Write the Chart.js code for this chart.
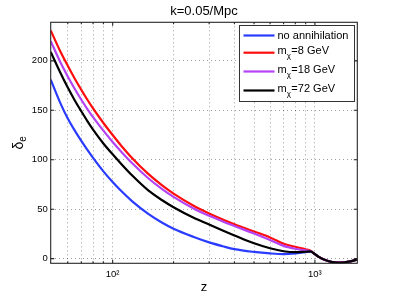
<!DOCTYPE html>
<html><head><meta charset="utf-8">
<script src="https://cdn.jsdelivr.net/npm/chart.js@4/dist/chart.umd.min.js"></script>
<style>html,body{margin:0;padding:0;background:#fff}#c{display:block}</style>
</head><body>
<canvas id="c" width="395" height="296"></canvas>
<script>
// ---- data ----
const zValues        = [49.4, 55, 60, 65, 70, 75, 80, 90, 100, 110, 125, 150, 175, 200, 250, 300, 350, 400, 500, 600, 700, 800, 900, 950, 1000, 1050, 1100, 1200, 1300, 1400, 1500, 1620];
const noAnnihilation = [181, 157.8, 141.7, 129.4, 119, 109.9, 101.9, 88.3, 77.5, 68.6, 58, 45.3, 36.6, 30.3, 22.2, 16.5, 12.6, 9.6, 6.8, 5.3, 4.6, 5.3, 6.6, 7, 4.5, 1.5, -0.6, -3.2, -4, -3.8, -2.8, -0.8];
const mChi8          = [230.8, 210, 195, 181.9, 170.7, 160.7, 151.9, 137.2, 125, 114.5, 101.6, 85.7, 74.3, 65.8, 53.8, 45.7, 39.6, 34.8, 27.5, 21.5, 15, 12, 9.5, 8, 4.5, 1.5, -0.6, -3.2, -4, -3.8, -2.8, -0.8];
const mChi18         = [220, 199.1, 184.2, 171.5, 160.7, 151.3, 143.1, 129.4, 118, 108.4, 96.4, 81.3, 70.6, 62.5, 51, 43.3, 37.6, 33, 25.4, 18.8, 12.9, 10, 8.3, 7.7, 4.5, 1.5, -0.6, -3.2, -4, -3.8, -2.8, -0.8];
const mChi72         = [209, 188.5, 173, 160, 149, 139.1, 130.5, 116.5, 105.5, 96, 84, 69, 59.3, 52, 41.6, 34.5, 28.5, 23.5, 15.5, 10.5, 7.5, 6.5, 7, 7.3, 4.5, 1.5, -0.6, -3.2, -4, -3.8, -2.8, -0.8];
const yTicks = [0, 50, 100, 150, 200];
const xGridTicks = [60, 70, 80, 90, 100, 200, 300, 400, 500, 600, 700, 800, 900, 1000];
const xMajorLabels = {100: '10\u00B2', 1000: '10\u00B3'};
const titleText = 'k=0.05/Mpc';
const legendEntries = [
  {main: 'no annihilation', sub: '', rest: ''},
  {main: 'm', sub: '\u03C7', rest: '=8 GeV'},
  {main: 'm', sub: '\u03C7', rest: '=18 GeV'},
  {main: 'm', sub: '\u03C7', rest: '=72 GeV'}
];
const colors = ['#2a3cff', '#ff0d0d', '#b443f5', '#000000'];

const FF = '"Liberation Sans", Arial, Helvetica, sans-serif';
const mk = arr => zValues.map((z, i) => ({x: z, y: arr[i]}));

const overlay = {
  id: 'overlay',
  afterDatasetsDraw(chart) {
    const {ctx, chartArea: a, scales: {x, y}} = chart;
    ctx.save();
    // frame
    ctx.strokeStyle = '#262626';
    ctx.lineWidth = 1.1;
    ctx.strokeRect(a.left, a.top, a.right - a.left, a.bottom - a.top);
    // inward ticks
    ctx.beginPath();
    yTicks.forEach(v => {
      const p = y.getPixelForValue(v);
      ctx.moveTo(a.left, p); ctx.lineTo(a.left + 3.5, p);
      ctx.moveTo(a.right, p); ctx.lineTo(a.right - 3.5, p);
    });
    xGridTicks.forEach(v => {
      const p = x.getPixelForValue(v);
      const len = xMajorLabels[v] ? 3.5 : 2;
      ctx.moveTo(p, a.bottom); ctx.lineTo(p, a.bottom - len);
      ctx.moveTo(p, a.top); ctx.lineTo(p, a.top + len);
    });
    ctx.stroke();

    // legend
    const bx = 239, by = 25, bw = 115, bh = 76;
    ctx.fillStyle = '#fff';
    ctx.fillRect(bx, by, bw, bh);
    ctx.strokeStyle = '#333';
    ctx.lineWidth = 1;
    ctx.strokeRect(bx + 0.5, by + 0.5, bw, bh);
    const rowY = [35.5, 52.7, 71.5, 90.5];
    legendEntries.forEach((e, i) => {
      const ly = rowY[i];
      ctx.strokeStyle = colors[i];
      ctx.lineWidth = 2.2;
      ctx.beginPath(); ctx.moveTo(243.5, ly); ctx.lineTo(274.5, ly); ctx.stroke();
      ctx.fillStyle = '#000';
      ctx.textBaseline = 'middle';
      ctx.textAlign = 'left';
      if (!e.sub) {
        ctx.font = '11px ' + FF;
        ctx.fillText(e.main, 277.5, ly);
      } else {
        const ty = ly - 2;
        ctx.font = '11px ' + FF;
        ctx.fillText(e.main, 277.5, ty);
        let xx = 277.5 + ctx.measureText(e.main).width;
        ctx.font = '8px ' + FF;
        ctx.fillText(e.sub, xx, ty + 5.5);
        xx += ctx.measureText(e.sub).width + 0.5;
        ctx.font = '11px ' + FF;
        ctx.fillText(e.rest, xx, ty);
      }
    });

    // title
    ctx.fillStyle = '#000';
    ctx.font = '13px ' + FF;
    ctx.textAlign = 'center';
    ctx.textBaseline = 'middle';
    const cx = (a.left + a.right) / 2;
    ctx.fillText(titleText, cx, 11);
    // x title
    ctx.fillText('z', cx, 287);
    // y title: delta with subscript e, rotated
    ctx.save();
    ctx.translate(23, (a.top + a.bottom) / 2);
    ctx.rotate(-Math.PI / 2);
    ctx.textBaseline = 'alphabetic';
    ctx.textAlign = 'left';
    ctx.font = '14px ' + FF;
    const wd = ctx.measureText('\u03B4').width;
    ctx.font = '10px ' + FF;
    const we = ctx.measureText('e').width;
    const start = -(wd + we) / 2;
    ctx.font = '14px ' + FF;
    ctx.fillText('\u03B4', start, 0);
    ctx.font = '10px ' + FF;
    ctx.fillText('e', start + wd, 3);
    ctx.restore();
    ctx.restore();
  }
};

new Chart(document.getElementById('c'), {
  type: 'line',
  data: {
    datasets: [
      {label: 'no annihilation', data: mk(noAnnihilation), borderColor: colors[0], order: 4},
      {label: 'm_chi=8 GeV', data: mk(mChi8), borderColor: colors[1], order: 3},
      {label: 'm_chi=18 GeV', data: mk(mChi18), borderColor: colors[2], order: 2},
      {label: 'm_chi=72 GeV', data: mk(mChi72), borderColor: colors[3], order: 1}
    ].map(d => Object.assign(d, {borderWidth: 2.2, pointRadius: 0, fill: false, cubicInterpolationMode: 'monotone'}))
  },
  options: {
    responsive: false,
    devicePixelRatio: 1,
    animation: false,
    events: [],
    layout: {padding: {left: 0, right: 37.7, top: 22.3, bottom: 0}},
    plugins: {legend: {display: false}, title: {display: false}, tooltip: {enabled: false}},
    scales: {
      x: {
        type: 'logarithmic',
        min: 49.4, max: 1620,
        afterFit: s => { s.height = 32.7; },
        afterBuildTicks: s => { s.ticks = xGridTicks.map(v => ({value: v})); },
        grid: {color: 'rgba(0,0,0,0.38)', lineWidth: 1, drawTicks: false},
        border: {display: false, dash: [1, 3]},
        ticks: {
          autoSkip: false, maxRotation: 0, padding: 5, color: '#000',
          font: {family: FF, size: 9.5},
          callback: v => xMajorLabels[v] || ''
        }
      },
      y: {
        type: 'linear',
        min: -4.7, max: 239,
        afterFit: s => { s.width = 50.7; },
        afterBuildTicks: s => { s.ticks = yTicks.map(v => ({value: v})); },
        grid: {color: 'rgba(0,0,0,0.38)', lineWidth: 1, drawTicks: false},
        border: {display: false, dash: [1, 3]},
        ticks: {padding: 3, color: '#000', font: {family: FF, size: 9.5}, callback: v => String(v)}
      }
    }
  },
  plugins: [overlay]
});
</script>
</body></html>
